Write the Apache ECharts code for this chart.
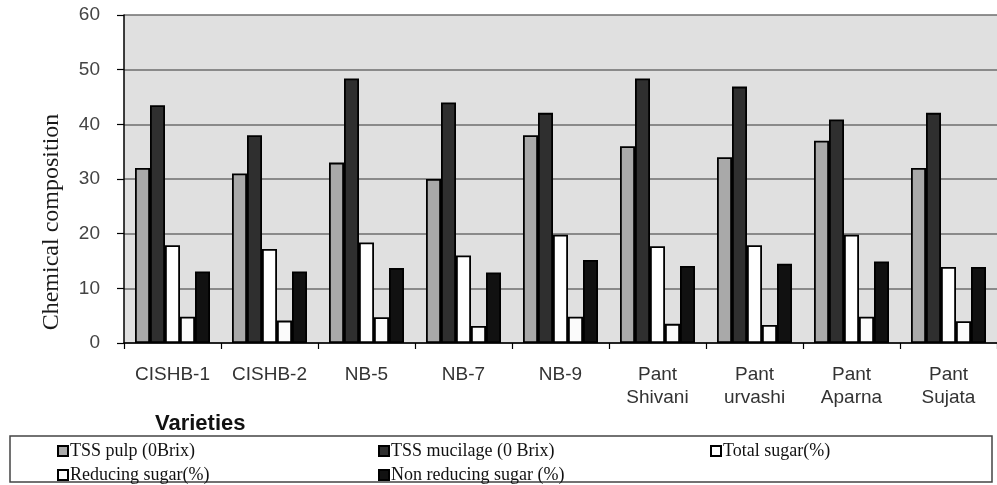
<!DOCTYPE html>
<html>
<head>
<meta charset="utf-8">
<script src="https://cdn.jsdelivr.net/npm/echarts@6/dist/echarts.min.js"></script>
<style>html,body{margin:0;padding:0;background:#fff}#c{width:997px;height:485px}</style>
</head>
<body>
<div id="c"></div>
<script>
var categories = ['CISHB-1', 'CISHB-2', 'NB-5', 'NB-7', 'NB-9', 'Pant\nShivani', 'Pant\nurvashi', 'Pant\nAparna', 'Pant\nSujata'];
var seriesNames = ['TSS pulp (0Brix)', 'TSS mucilage (0 Brix)', 'Total sugar(%)', 'Reducing sugar(%)', 'Non reducing sugar (%)'];
var tssPulp = [32, 31, 33, 30, 38, 36, 34, 37, 32];
var tssMucilage = [43.5, 38, 48.4, 44, 42.1, 48.4, 46.9, 40.9, 42.1];
var totalSugar = [17.9, 17.2, 18.4, 16, 19.8, 17.7, 17.9, 19.8, 13.9];
var reducingSugar = [4.8, 4.1, 4.7, 3.1, 4.8, 3.5, 3.3, 4.8, 4.0];
var nonReducingSugar = [13.1, 13.1, 13.7, 12.9, 15.2, 14.1, 14.5, 14.9, 13.9];
var yTicks = [0, 10, 20, 30, 40, 50, 60];

var seriesData = [tssPulp, tssMucilage, totalSugar, reducingSugar, nonReducingSugar];
var fills = ['#a9a9a9', '#2f2f2f', '#ffffff', '#fbfbfb', '#111111'];

var chart = echarts.init(document.getElementById('c'));
var series = seriesData.map(function (d, i) {
  return {
    name: seriesNames[i],
    type: 'bar',
    data: d,
    barWidth: 15,
    barGap: '0%',
    itemStyle: { color: fills[i], borderColor: '#000', borderWidth: 1.8 },
    emphasis: { disabled: true }
  };
});

var legendBase = {
  orient: 'vertical',
  icon: 'rect',
  itemWidth: 10,
  itemHeight: 10,
  itemGap: 6,
  padding: 0,
  selectedMode: false,
  textStyle: { fontFamily: 'Liberation Serif', fontSize: 18, color: '#111', padding: [0, 0, 0, -3] }
};

chart.setOption({
  animation: false,
  backgroundColor: '#ffffff',
  grid: { left: 124, right: 0, top: 15, bottom: 142, show: true, backgroundColor: '#e0e0e0', borderWidth: 0 },
  legend: [
    Object.assign({}, legendBase, { left: 57, top: 442, data: [seriesNames[0], seriesNames[3]] }),
    Object.assign({}, legendBase, { left: 378, top: 442, data: [seriesNames[1], seriesNames[4]] }),
    Object.assign({}, legendBase, { left: 710, top: 442, data: [seriesNames[2]] })
  ],
  xAxis: {
    type: 'category',
    data: categories,
    axisLine: { lineStyle: { color: '#000', width: 1.5 } },
    axisTick: { show: true, length: 6, lineStyle: { color: '#000', width: 1.2 } },
    axisLabel: { fontFamily: 'Liberation Sans', fontSize: 19, color: '#333', margin: 20, lineHeight: 23, interval: 0 }
  },
  yAxis: {
    type: 'value',
    min: yTicks[0],
    max: yTicks[yTicks.length - 1],
    interval: 10,
    axisLine: { show: true, lineStyle: { color: '#000', width: 1.5 } },
    axisTick: { show: true, length: 7, lineStyle: { color: '#000', width: 1.2 } },
    axisLabel: { fontFamily: 'Liberation Sans', fontSize: 19, color: '#444', margin: 24 },
    splitLine: { lineStyle: { color: '#6e6e6e', width: 1.6 } }
  },
  graphic: [
    {
      type: 'text',
      x: 52, y: 222,
      rotation: Math.PI / 2,
      style: { text: 'Chemical composition', font: '24px "Liberation Serif"', fill: '#1a1a1a', textAlign: 'center', textVerticalAlign: 'middle' }
    },
    {
      type: 'text',
      left: 155, top: 413,
      style: { text: 'Varieties', font: 'bold 22px "Liberation Sans"', fill: '#111' }
    },
    {
      type: 'rect',
      shape: { x: 10, y: 436, width: 982, height: 46 },
      style: { fill: 'none', stroke: '#444', lineWidth: 1.5 },
      z: -1
    }
  ],
  series: series
});
</script>
</body>
</html>
